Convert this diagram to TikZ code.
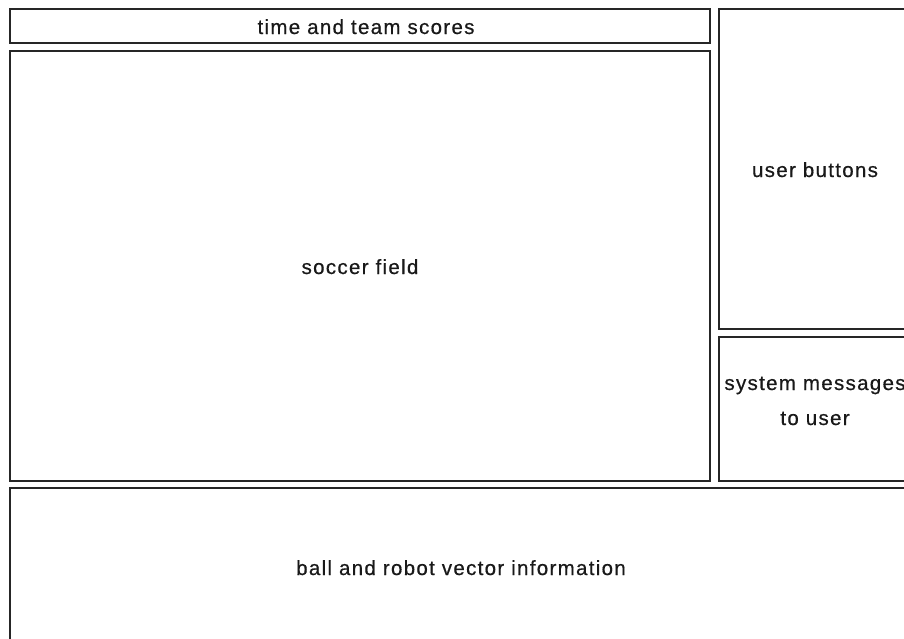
\documentclass[tikz,border=0pt]{standalone}
\usepackage{fontspec}
\setmainfont{Liberation Sans}[LetterSpace=6.4, FakeBold=0.6]
\begin{document}
\begin{tikzpicture}[x=1pt,y=-1pt,
  panel/.style={draw=black!85, line width=2pt, rectangle, inner sep=0pt,
    font=\fontsize{20.5}{35}\selectfont, text=black!90,
    text height=20pt, text depth=4pt}]
  \useasboundingbox (0,0) rectangle (904,638);
  \clip (0,0) rectangle (904,638);
  % screen layout panels
  \node[panel, minimum width=700pt, minimum height=34pt]  (scores)   at (360,26)  {\hspace*{12pt}time and team scores};
  \node[panel, minimum width=700pt, minimum height=430pt] (field)    at (360,266) {soccer field};
  \node[panel, minimum width=192pt, minimum height=320pt] (buttons)  at (815,169) {user buttons};
  \node[panel, minimum width=192pt, minimum height=144pt, text height=10pt, text depth=48pt] (messages) at (815,409)
    {\begin{tabular}[t]{@{}c@{}}system messages\\to user\end{tabular}};
  \node[panel, minimum width=902pt, minimum height=158pt] (vectors)  at (461,567) {ball and robot vector information};
\end{tikzpicture}
\end{document}
